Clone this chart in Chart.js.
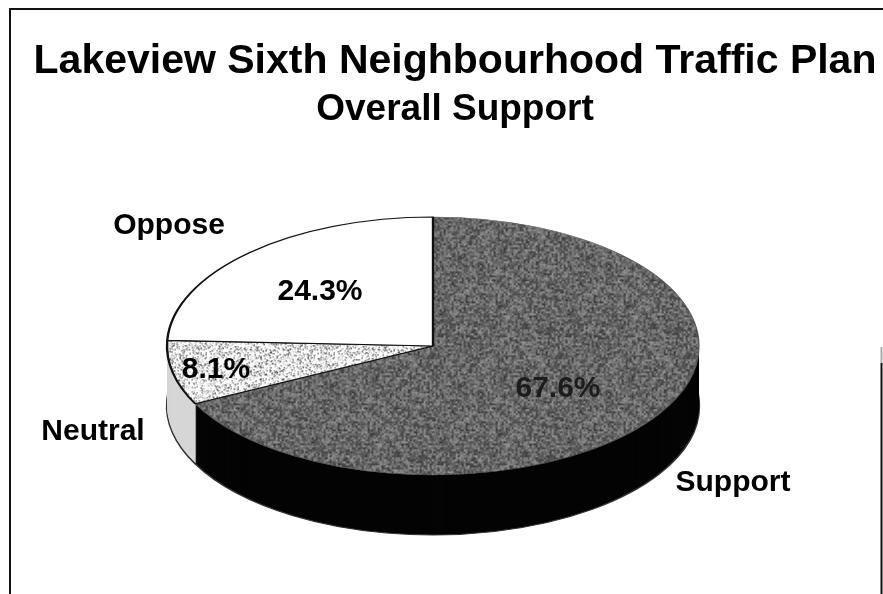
<!DOCTYPE html>
<html lang="en">
<head>
  <meta charset="UTF-8">
  <title>Lakeview Sixth Neighbourhood Traffic Plan</title>
  <script src="https://cdn.jsdelivr.net/npm/chart.js"></script>
  <style>
    html, body { margin: 0; padding: 0; background: #fff; overflow: hidden; }
    canvas { display: block; }
  </style>
</head>
<body>
  <canvas id="pieChart" width="883" height="594"></canvas>

  <script>
    const categories = ['Support', 'Neutral', 'Oppose'];
    const shares = [67.6, 8.1, 24.3];
    const shareLabels = ['67.6%', '8.1%', '24.3%'];

    const FONT = '"Liberation Sans", Arial, sans-serif';

    // Where the tilted pie sits on the page
    const pie = { cx: 433, cy: 346, rx: 266, ry: 129, depth: 60 };

    // Text anchors, same order as categories
    const namePos = [[733, 483], [93, 432], [169, 226]];
    const sharePos = [[558, 389], [216, 370], [320, 292]];

    // Small repeatable hash so the textures come out the same every run
    function hash(x, y) {
      const s = Math.sin(x * 127.1 + y * 311.7) * 43758.5453;
      return s - Math.floor(s);
    }

    // Scanned looking fill: paint(x, y) returns a grey level for each tile pixel
    function texture(paint) {
      const size = 128;
      const tile = document.createElement('canvas');
      tile.width = tile.height = size;
      const g = tile.getContext('2d');
      const img = g.createImageData(size, size);
      for (let y = 0; y < size; y++) {
        for (let x = 0; x < size; x++) {
          const v = paint(x, y);
          const i = (y * size + x) * 4;
          img.data[i] = img.data[i + 1] = img.data[i + 2] = v;
          img.data[i + 3] = 255;
        }
      }
      g.putImageData(img, 0, 0);
      return g.createPattern(tile, 'repeat');
    }

    const supportFill = texture((x, y) => {
      const coarse = hash(x >> 1, y >> 1);
      const fine = hash(x, y);
      return 46 + coarse * 78 + fine * 36;
    });
    const neutralFill = texture((x, y) => {
      const n = hash(x + 5, y + 9);
      return n < 0.1 ? 40 : n < 0.24 ? 165 : 250;
    });

    const sideFills = ['#040404', '#d6d6d6', '#d0d0d0'];

    // Moves the round pie onto its ellipse, dy pixels lower for the side wall
    function tilt(ctx, arc, dy) {
      const r = arc.outerRadius;
      ctx.translate(pie.cx, pie.cy + dy);
      ctx.scale(pie.rx / r, pie.ry / r);
      ctx.translate(-arc.x, -arc.y);
    }

    function keepPatternsSquare(r) {
      const m = new DOMMatrix().scale(r / pie.rx, r / pie.ry);
      [supportFill, neutralFill].forEach(p => p.setTransform(m));
    }

    const tiltedPie = {
      id: 'tiltedPie',
      beforeDraw(chart) {
        const ctx = chart.ctx;
        // page frame: the right side only starts part way down
        ctx.save();
        ctx.strokeStyle = '#111';
        ctx.lineWidth = 2;
        ctx.beginPath();
        ctx.moveTo(10, 600);
        ctx.lineTo(10, 9);
        ctx.lineTo(883, 9);
        ctx.moveTo(881.5, 363);
        ctx.lineTo(881.5, 600);
        ctx.stroke();
        ctx.strokeStyle = '#aaa';
        ctx.beginPath();
        ctx.moveTo(881.5, 347);
        ctx.lineTo(881.5, 363);
        ctx.stroke();
        ctx.restore();
      },
      beforeDatasetsDraw(chart) {
        const ctx = chart.ctx;
        const arcs = chart.getDatasetMeta(0).data;
        keepPatternsSquare(arcs[0].outerRadius);
        // side wall: stacked copies of each slice, Support last so it stays in front
        for (let i = arcs.length - 1; i >= 0; i--) {
          const arc = arcs[i];
          const own = arc.options;
          for (let dy = pie.depth; dy >= 1; dy--) {
            arc.options = Object.create(own);
            arc.options.backgroundColor = sideFills[i];
            arc.options.borderWidth = dy === pie.depth ? 2 : 0;
            arc.options.borderColor = '#333';
            ctx.save();
            tilt(ctx, arc, dy);
            arc.draw(ctx);
            ctx.restore();
          }
          arc.options = own;
        }
        ctx.save();
        tilt(ctx, arcs[0], 0);
      },
      afterDatasetsDraw(chart) {
        const ctx = chart.ctx;
        ctx.restore();
        ctx.textAlign = 'center';
        ctx.textBaseline = 'middle';
        ctx.fillStyle = '#000';
        ctx.font = 'bold 30px ' + FONT;
        categories.forEach((name, i) => {
          ctx.fillText(name, namePos[i][0], namePos[i][1]);
        });
        shareLabels.forEach((text, i) => {
          ctx.fillStyle = i === 0 ? '#1c1c1c' : '#000';
          ctx.fillText(text, sharePos[i][0], sharePos[i][1]);
        });
      }
    };

    new Chart(document.getElementById('pieChart'), {
      type: 'pie',
      plugins: [tiltedPie],
      data: {
        labels: categories,
        datasets: [{
          data: shares,
          clip: false,
          backgroundColor: [supportFill, neutralFill, '#ffffff'],
          borderColor: ['#5a5a5a', '#111', '#111'],
          borderWidth: [1, 2, 2]
        }]
      },
      options: {
        responsive: false,
        animation: false,
        layout: { padding: { left: 27 } },
        plugins: {
          legend: { display: false },
          tooltip: { enabled: false },
          title: {
            display: true,
            text: 'Lakeview Sixth Neighbourhood Traffic Plan',
            color: '#000',
            font: { family: FONT, size: 41, weight: 'bold' },
            padding: { top: 37, bottom: 1 }
          },
          subtitle: {
            display: true,
            text: 'Overall Support',
            color: '#000',
            font: { family: FONT, size: 37, weight: 'bold' },
            padding: { top: 0, bottom: 10 }
          }
        }
      }
    });
  </script>
</body>
</html>
